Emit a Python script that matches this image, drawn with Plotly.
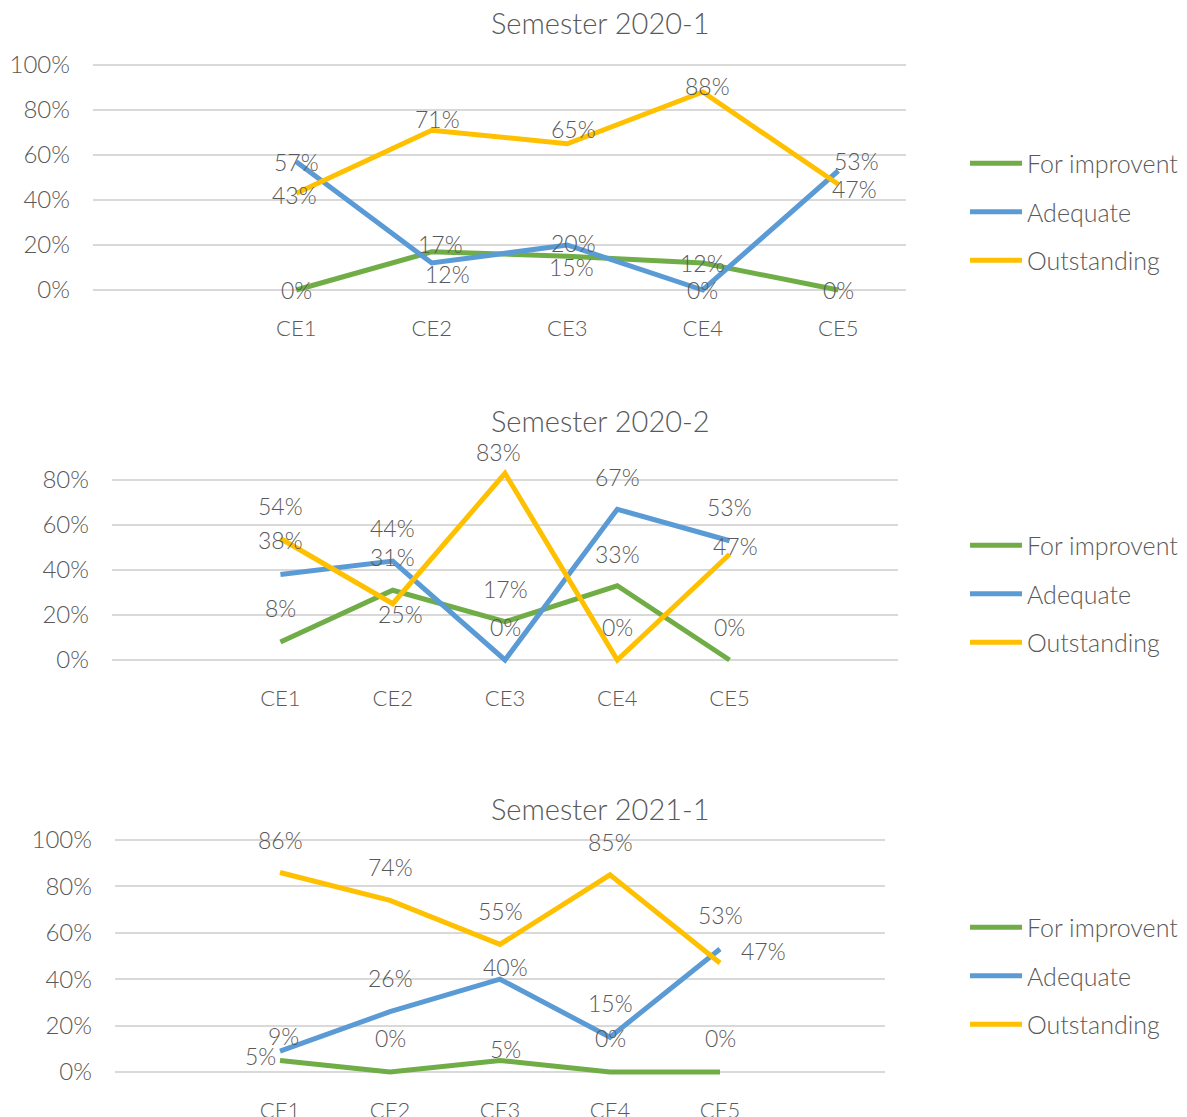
import plotly.graph_objects as go

# ---------------- data ----------------
categories = ["CE1", "CE2", "CE3", "CE4", "CE5"]
series_names = ["For improvent", "Adequate", "Outstanding"]
titles = ["Semester 2020-1", "Semester 2020-2", "Semester 2021-1"]

s1_improve = [0.00, 0.17, 0.15, 0.12, 0.00]
s1_adequate = [0.57, 0.12, 0.20, 0.00, 0.53]
s1_outstanding = [0.43, 0.71, 0.65, 0.88, 0.47]

s2_improve = [0.08, 0.31, 0.17, 0.33, 0.00]
s2_adequate = [0.38, 0.44, 0.00, 0.67, 0.53]
s2_outstanding = [0.54, 0.25, 0.83, 0.00, 0.47]

s3_improve = [0.05, 0.00, 0.05, 0.00, 0.00]
s3_adequate = [0.09, 0.26, 0.40, 0.15, 0.53]
s3_outstanding = [0.86, 0.74, 0.55, 0.85, 0.47]

# ---------------- style ----------------
W, H = 1187, 1117
PAGE_OFF = 8  # browser body margin
FONT = "Lato"
WEIGHT = 300
TXT = "#595959"
colors = ["#70AD47", "#5B9BD5", "#FFC000"]

# data-label offsets in screen px (dx, dy; dy positive = downward)
off1 = [
    [(0, 0), (9, -8), (4, 11), (0, 0), (0, 0)],
    [(0, 0), (16, 11), (6, -2), (0, 0), (18, -10)],
    [(-2, 2), (6, -11), (6, -15), (5, -6), (16, 5)],
]
off2 = [
    [(0, -34), (0, -33), (0, -33), (0, -32), (0, -33)],
    [(0, -35), (0, -33), (0, -33), (0, -32), (0, -34)],
    [(0, -33), (8, 10), (-7, -21), (0, -33), (6, -8)],
]
off3 = [
    [(-20, -4), (0, -34), (5, -11), (0, -34), (0, -34)],
    [(3, -15), (0, -34), (5, -12), (0, -34), (0, -34)],
    [(0, -32), (0, -33), (0, -33), (0, -33), (43, -12)],
]

# panel geometry (page pixels)
panels = [
    dict(xl=93, xr=906, y0=290, ppu=225, ymax=1.0, xr_rng=(-1.5, 4.5), ty=22, ly=212, off=off1),
    dict(xl=112, xr=898, y0=660, ppu=225, ymax=0.9, xr_rng=(-1.5, 5.5), ty=420, ly=594, off=off2),
    dict(xl=115, xr=885, y0=1072, ppu=232, ymax=1.0, xr_rng=(-1.5, 5.5), ty=808, ly=976, off=off3),
]
datasets = [
    [s1_improve, s1_adequate, s1_outstanding],
    [s2_improve, s2_adequate, s2_outstanding],
    [s3_improve, s3_adequate, s3_outstanding],
]


def fx(px):
    return (px - PAGE_OFF) / W


def fy(py):
    return 1 - (py - PAGE_OFF) / H


YMIN = -0.04
YPAD = 0.006

fig = go.Figure()
annotations = []
layout = {}

for p_i, (p, series) in enumerate(zip(panels, datasets)):
    n = p_i + 1
    xa = "x" if n == 1 else f"x{n}"
    ya = "y" if n == 1 else f"y{n}"
    lg = "legend" if n == 1 else f"legend{n}"
    for s_i, (name, vals) in enumerate(zip(series_names, series)):
        fig.add_trace(go.Scatter(
            x=categories, y=vals, name=name, mode="lines",
            line=dict(color=colors[s_i], width=5),
            xaxis=xa, yaxis=ya, legend=lg, legendgroup=f"{n}-{s_i}",
            hoverinfo="skip",
        ))
        for c, v, (dx, dy) in zip(categories, vals, p["off"][s_i]):
            annotations.append(dict(
                x=c, y=v, xref=xa, yref=ya, text=f"{round(v * 100)}%",
                showarrow=False, xshift=dx, yshift=-dy,
                font=dict(family=FONT, size=23, color=TXT, weight=WEIGHT),
            ))
    ytop = p["ymax"] + YPAD
    y_bottom_px = p["y0"] - YMIN * p["ppu"]
    y_top_px = p["y0"] - ytop * p["ppu"]
    xkey = "xaxis" if n == 1 else f"xaxis{n}"
    ykey = "yaxis" if n == 1 else f"yaxis{n}"
    ticks_y = [0, 0.2, 0.4, 0.6, 0.8, 1.0]
    layout[xkey] = dict(
        domain=[fx(p["xl"]), fx(p["xr"])], anchor=ya, type="category",
        range=list(p["xr_rng"]), showgrid=False, showline=False, zeroline=False,
        ticks="", tickfont=dict(family=FONT, size=22, color=TXT, weight=WEIGHT),
        ticklabelstandoff=14, fixedrange=True, automargin=False,
    )
    layout[ykey] = dict(
        domain=[fy(y_bottom_px), fy(y_top_px)], anchor=xa,
        range=[YMIN, ytop], tickvals=[t for t in ticks_y if t <= p["ymax"] + 1e-9],
        tickformat=".0%", showgrid=True, gridcolor="#d9d9d9", gridwidth=2,
        zeroline=False, showline=False, ticks="",
        tickfont=dict(family=FONT, size=24, color=TXT, weight=WEIGHT), ticklabelstandoff=22,
        fixedrange=True, automargin=False,
    )
    layout[lg] = dict(
        x=fx(965), xanchor="left", y=fy(p["ly"]), yanchor="middle",
        font=dict(family=FONT, size=25, color=TXT, weight=WEIGHT), traceorder="grouped",
        tracegroupgap=13, bgcolor="rgba(0,0,0,0)", itemwidth=52,
    )
    annotations.append(dict(
        x=fx(600), y=fy(p["ty"]), xref="paper", yref="paper",
        text=titles[p_i], showarrow=False, xanchor="center", yanchor="middle",
        font=dict(family=FONT, size=29, color=TXT, weight=WEIGHT),
    ))

fig.update_layout(
    width=W, height=H, margin=dict(l=0, r=0, t=0, b=0, autoexpand=False),
    paper_bgcolor="white", plot_bgcolor="white",
    annotations=annotations, showlegend=True, **layout,
)

fig.write_html("out.html")
